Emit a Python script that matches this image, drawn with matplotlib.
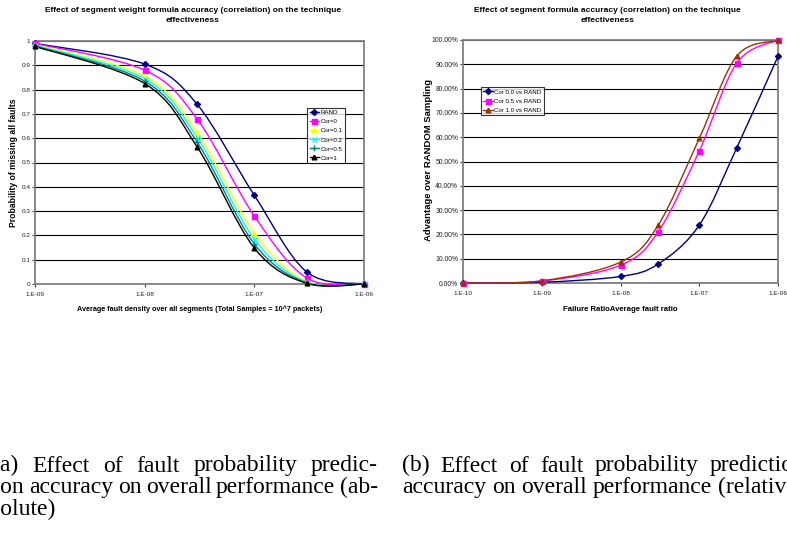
import numpy as np
import matplotlib
matplotlib.use("Agg")
import matplotlib.pyplot as plt
from matplotlib.path import Path
from matplotlib.patches import PathPatch
from matplotlib.lines import Line2D
from matplotlib.ticker import FixedLocator, FixedFormatter, NullLocator

plt.rcParams["font.family"] = ["Liberation Sans", "DejaVu Sans"]

# (a) absolute: probability of missing all faults
density = [1e-9, 1e-8, 3e-8, 1e-7, 3e-7, 1e-6]
miss_rand = [0.99, 0.905, 0.74, 0.365, 0.05, 0.0]
miss_cor0 = [0.99, 0.88, 0.68, 0.28, 0.025, 0.0]
miss_cor01 = [0.985, 0.855, 0.625, 0.21, 0.01, 0.0]
miss_cor02 = [0.983, 0.845, 0.605, 0.185, 0.007, 0.0]
miss_cor05 = [0.98, 0.835, 0.585, 0.165, 0.005, 0.0]
miss_cor1 = [0.978, 0.825, 0.565, 0.148, 0.003, 0.0]
left_names = ["RAND", "Cor=0", "Cor=0.1", "Cor=0.2", "Cor=0.5", "Cor=1"]
left_xticks = [1e-9, 1e-8, 1e-7, 1e-6]
left_xlabels = ["1.E-09", "1.E-08", "1.E-07", "1.E-06"]
left_yticks = [0, 0.1, 0.2, 0.3, 0.4, 0.5, 0.6, 0.7, 0.8, 0.9, 1.0]
left_ylabels = ["0", "0.1", "0.2", "0.3", "0.4", "0.5", "0.6", "0.7", "0.8", "0.9", "1"]

# (b) relative: advantage over random sampling
ratio = [1e-10, 1e-9, 1e-8, 3e-8, 1e-7, 3e-7, 1e-6]
adv_cor00 = [0.0, 0.003, 0.027, 0.078, 0.238, 0.557, 0.933]
adv_cor05 = [0.0, 0.008, 0.073, 0.21, 0.543, 0.905, 1.0]
adv_cor10 = [0.0, 0.009, 0.086, 0.237, 0.595, 0.934, 0.998]
right_names = ["Cor 0.0 vs RAND", "Cor 0.5 vs RAND", "Cor 1.0 vs RAND"]
right_xticks = [1e-10, 1e-9, 1e-8, 1e-7, 1e-6]
right_xlabels = ["1.E-10", "1.E-09", "1.E-08", "1.E-07", "1.E-06"]
right_yticks = [0, 0.1, 0.2, 0.3, 0.4, 0.5, 0.6, 0.7, 0.8, 0.9, 1.0]
right_ylabels = ["0.00%", "10.00%", "20.00%", "30.00%", "40.00%", "50.00%",
                 "60.00%", "70.00%", "80.00%", "90.00%", "100.00%"]

W, H = 787, 534


def smooth_line(ax, xs, ys, color, lw=1.0):
    # excel-like smoothed line: catmull-rom bezier in log-x space
    pts = np.column_stack([np.log10(xs), ys])
    n = len(pts)
    verts = [pts[0]]
    codes = [Path.MOVETO]
    for i in range(n - 1):
        p0 = pts[max(i - 1, 0)]
        p1 = pts[i]
        p2 = pts[i + 1]
        p3 = pts[min(i + 2, n - 1)]
        verts += [p1 + (p2 - p0) / 6, p2 - (p3 - p1) / 6, p2]
        codes += [Path.CURVE4] * 3
    verts = np.array(verts)
    verts[:, 0] = 10 ** verts[:, 0]
    patch = PathPatch(Path(verts, codes), fill=False, edgecolor=color, lw=lw,
                      clip_on=False, zorder=3)
    ax.add_patch(patch)


def style_axes(ax, xticks, xlabels, yticks, ylabels, ysize):
    ax.set_xscale("log")
    ax.xaxis.set_major_locator(FixedLocator(xticks))
    ax.xaxis.set_major_formatter(FixedFormatter(xlabels))
    ax.xaxis.set_minor_locator(NullLocator())
    ax.yaxis.set_major_locator(FixedLocator(yticks))
    ax.yaxis.set_major_formatter(FixedFormatter(ylabels))
    ax.set_ylim(0, 1)
    ax.grid(axis="y", color="black", lw=0.8)
    ax.set_axisbelow(True)
    for s in ax.spines.values():
        s.set_color("#808080")
        s.set_linewidth(1.3)
    ax.tick_params(axis="both", direction="out", length=2.2, width=0.8,
                   color="#404040", labelsize=4.6, labelcolor="#202020")
    ax.tick_params(axis="y", pad=1.2, labelsize=ysize)
    ax.tick_params(axis="x", pad=3.5)


fig = plt.figure(figsize=(W / 100, H / 100), dpi=100)

# ---- left chart
ax1 = fig.add_axes([35 / W, 1 - 284 / H, 329 / W, 243 / H])
style_axes(ax1, left_xticks, left_xlabels, left_yticks, left_ylabels, 4.6)
ax1.set_xlim(1e-9, 1e-6)
left_series = [miss_rand, miss_cor0, miss_cor01, miss_cor02, miss_cor05, miss_cor1]
left_colors = ["#000080", "#FF00FF", "#FFFF00", "#00FFFF", "#008080", "#000000"]
left_markers = ["D", "s", "^", "x", "+", "^"]
left_ms = [3.0, 3.6, 3.4, 3.6, 4.2, 3.4]
handles = []
for ys, c, m, ms, name in zip(left_series, left_colors, left_markers, left_ms, left_names):
    smooth_line(ax1, density, ys, c)
    ax1.plot(density, ys, ls="none", marker=m, ms=ms, color=c, mec=c, mew=1.0,
             clip_on=False, zorder=4)
    handles.append(Line2D([], [], color=c, lw=1.0, marker=m, ms=ms, mec=c, mew=1.0))
leg = ax1.legend(handles, left_names, loc="upper left", bbox_to_anchor=(0.827, 0.726),
                 fontsize=4.4, frameon=True, fancybox=False, handlelength=1.6,
                 handletextpad=0.2, borderpad=0.4, labelspacing=0.62,
                 borderaxespad=0)
leg.get_frame().set_edgecolor("black")
leg.get_frame().set_linewidth(0.8)
ax1.set_ylabel("Probability of missing all faults", fontsize=6.2, fontweight="bold")
ax1.yaxis.set_label_coords(-0.064, 0.5)
ax1.yaxis.label.set_va("center")
ax1.set_xlabel("Average fault density over all segments (Total Samples = 10^7 packets)",
               fontsize=5.25, fontweight="bold")
ax1.xaxis.set_label_coords(0.5, -0.103)
ax1.xaxis.label.set_va("center")
fig.text(193 / W, 1 - 7 / H,
         "Effect of segment weight formula accuracy (correlation) on the technique\neffectiveness",
         ha="center", va="top", fontsize=6.0, fontweight="bold", linespacing=1.55)

# ---- right chart
ax2 = fig.add_axes([463 / W, 1 - 283 / H, 315 / W, 243 / H])
style_axes(ax2, right_xticks, right_xlabels, right_yticks, right_ylabels, 4.9)
ax2.set_xlim(1e-10, 1e-6)
right_series = [adv_cor00, adv_cor05, adv_cor10]
right_colors = ["#000080", "#FF00FF", "#993300"]
right_markers = ["D", "s", "^"]
right_ms = [3.0, 3.6, 3.4]
handles = []
for ys, c, m, ms in zip(right_series, right_colors, right_markers, right_ms):
    smooth_line(ax2, ratio, ys, c)
    ax2.plot(ratio, ys, ls="none", marker=m, ms=ms, color=c, mec=c, clip_on=False, zorder=4)
    handles.append(Line2D([], [], color=c, lw=1.0, marker=m, ms=ms, mec=c))
leg = ax2.legend(handles, right_names, loc="upper left", bbox_to_anchor=(0.057, 0.807),
                 fontsize=4.4, frameon=True, fancybox=False, handlelength=1.6,
                 handletextpad=0.2, borderpad=0.4, labelspacing=0.62,
                 borderaxespad=0)
leg.get_frame().set_edgecolor("black")
leg.get_frame().set_linewidth(0.8)
ax2.set_ylabel("Advantage over RANDOM Sampling", fontsize=6.8, fontweight="bold")
ax2.yaxis.set_label_coords(-0.108, 0.505)
ax2.yaxis.label.set_va("center")
ax2.set_xlabel("Failure RatioAverage fault ratio", fontsize=5.6, fontweight="bold")
ax2.xaxis.set_label_coords(0.5, -0.107)
ax2.xaxis.label.set_va("center")
fig.text(607.5 / W, 1 - 7 / H,
         "Effect of segment formula accuracy (correlation) on the technique\neffectiveness",
         ha="center", va="top", fontsize=6.0, fontweight="bold", linespacing=1.55)

# ---- captions (justified, clipped by the figure edges as in the source)
renderer = fig.canvas.get_renderer()


def caption_line(text, left, right, base, justify):
    words = text.split(" ")
    objs = [fig.text(0, 1 - base / H, w, fontsize=17, family=["Liberation Serif", "DejaVu Serif"],
                     va="baseline", ha="left") for w in words]
    widths = [t.get_window_extent(renderer).width for t in objs]
    if justify and len(words) > 1:
        gap = (right - left - sum(widths)) / (len(words) - 1)
    else:
        gap = 0.25 * 17 * 100 / 72
    x = left
    for t, w in zip(objs, widths):
        t.set_x(x / W)
        x += w + gap


caption_line("(a) Effect of fault probability predic-", -8, 378, 471.5, True)
caption_line("tion accuracy on overall performance (ab-", -12, 378, 493, True)
caption_line("solute)", -9, 378, 515, False)
caption_line("(b) Effect of fault probability prediction", 402, 805, 471.5, True)
caption_line("accuracy on overall performance (relative)", 402, 805, 493, False)

fig.savefig("out.png", dpi=100)
